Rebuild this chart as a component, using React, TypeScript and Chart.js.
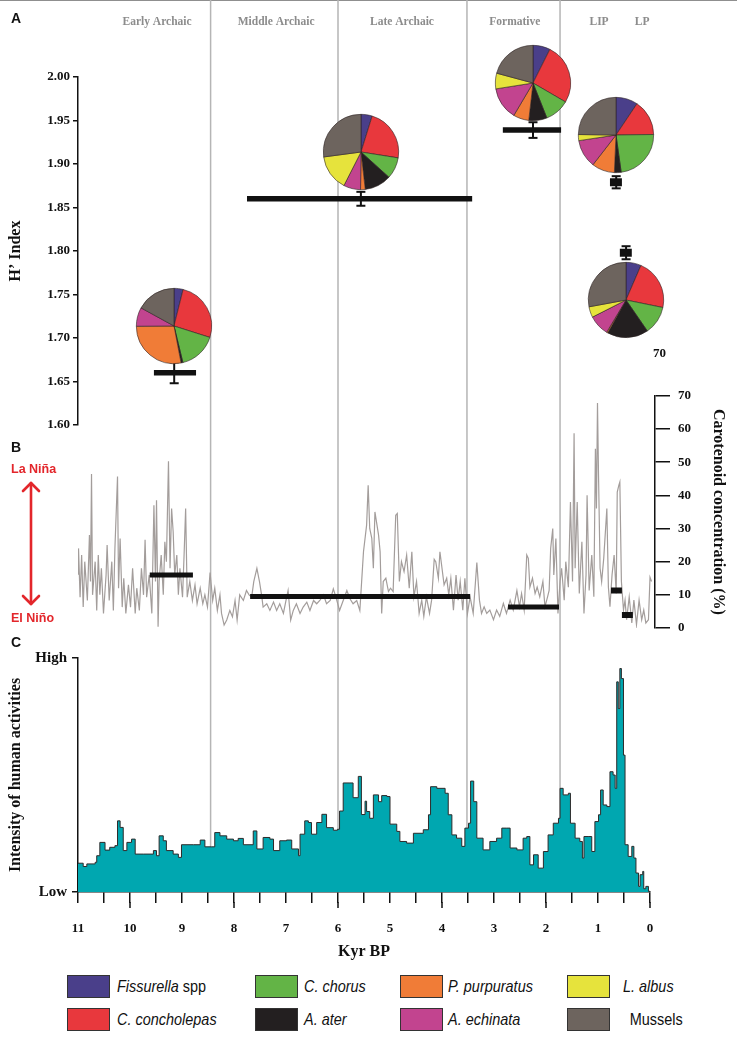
import React, { useEffect, useRef } from 'react';
import { Chart, registerables, Plugin } from 'chart.js';

Chart.register(...registerables);

// ---------------- data ----------------
const species = ['Fissurella spp', 'C. concholepas', 'C. chorus', 'A. ater', 'P. purpuratus', 'A. echinata', 'L. albus', 'Mussels'];
const speciesColors = ['#4a3f8a', '#e8383d', '#63b446', '#231f20', '#f07c37', '#c2448f', '#e6e33c', '#6d645e'];

const periodNames = ['Early Archaic', 'Middle Archaic', 'Late Archaic', 'Formative', 'LIP', 'LP'];
const periodLabelKyr = [9.48, 7.19, 4.77, 2.6, 0.98, 0.15];
const periodBounds = [8.45, 6.0, 3.52, 1.73];

// panel A: H' index per occupation phase
const hStart = [9.54, 7.75, 2.83, 0.77, 0.58];
const hEnd = [8.73, 3.42, 1.71, 0.54, 0.35];
const hMean = [1.66, 1.86, 1.939, 1.879, 1.798];
const hErr = [0.012, 0.008, 0.009, 0.007, 0.0075];
const hErrKyr = [9.15, 5.56, 2.25, 0.65, 0.46];
// shares (%) in species order
const pieShares = [
  [3.9, 26.0, 16.3, 0.8, 27.9, 8.1, 0, 17.0],
  [4.8, 22.7, 9.2, 11.5, 2.0, 7.3, 15.4, 27.1],
  [7.4, 26.0, 10.6, 7.8, 6.7, 14.0, 6.7, 20.8],
  [9.4, 15.4, 23.0, 2.9, 9.8, 12.1, 2.6, 24.8],
  [6.5, 21.7, 12.2, 17.7, 0.5, 8.9, 4.6, 27.9],
];

// panel B: carotenoid concentration (%) [kyr BP, value]
const carotenoidSeries: [number, number][] = [
  [11.0, 16.2], [10.99, 24], [10.96, 9.3], [10.93, 22], [10.9, 6.3], [10.87, 20], [10.82, 8.3], [10.78, 28],
  [10.76, 14], [10.74, 46.4], [10.72, 10], [10.67, 20], [10.64, 5.3], [10.61, 22], [10.58, 10], [10.55, 18],
  [10.51, 4.4], [10.46, 16], [10.44, 25], [10.4, 8.3], [10.35, 20], [10.32, 5.3], [10.29, 24], [10.24, 45.7],
  [10.22, 12], [10.19, 27], [10.15, 6.3], [10.12, 15], [10.08, 4.4], [10.03, 13], [9.99, 6.3], [9.95, 18],
  [9.9, 4.4], [9.87, 12], [9.82, 5.3], [9.78, 18], [9.74, 10], [9.71, 26.6], [9.68, 9.3], [9.63, 16],
  [9.58, 4.4], [9.54, 37], [9.51, 14], [9.49, 38.5], [9.46, 0.4], [9.44, 14], [9.4, 22], [9.36, 10],
  [9.33, 26], [9.3, 20], [9.26, 50.3], [9.23, 18], [9.2, 36], [9.17, 29], [9.14, 16], [9.1, 22],
  [9.07, 10], [9.04, 18], [8.99, 9.3], [8.96, 22], [8.93, 36], [8.9, 9.3], [8.85, 14], [8.8, 8.3],
  [8.75, 13], [8.71, 7.3], [8.65, 12], [8.6, 7.3], [8.56, 10], [8.51, 6.3], [8.46, 16.7], [8.41, 8.3],
  [8.37, 12], [8.32, 5.3], [8.27, 10], [8.24, 4.4], [8.19, 0.9], [8.14, 2.4], [8.08, 5.3], [8.03, 3.4],
  [7.98, 8.3], [7.94, 2.4], [7.89, 10], [7.82, 8.3], [7.76, 11.3], [7.71, 10], [7.66, 9.3], [7.62, 14],
  [7.56, 18], [7.51, 14], [7.47, 10], [7.44, 6.3], [7.37, 7.3], [7.31, 5.3], [7.24, 7.8], [7.18, 5.3],
  [7.12, 7.3], [7.05, 4.4], [7.0, 8.3], [6.96, 11.3], [6.91, 2.4], [6.86, 5.3], [6.8, 7.3], [6.73, 4.4],
  [6.67, 6.3], [6.6, 7.8], [6.54, 5.3], [6.47, 8.3], [6.41, 7.3], [6.35, 8.3], [6.28, 10], [6.22, 7.3],
  [6.15, 8.3], [6.09, 11.8], [6.04, 9.3], [5.97, 5.3], [5.9, 8.3], [5.83, 11.3], [5.77, 8.8], [5.71, 7.3],
  [5.64, 8.3], [5.58, 5.3], [5.51, 23], [5.45, 31], [5.42, 43], [5.39, 30], [5.35, 27], [5.32, 18],
  [5.29, 35], [5.26, 32], [5.22, 28], [5.19, 23], [5.16, 4.4], [5.13, 14], [5.08, 15], [5.03, 11],
  [4.99, 12], [4.94, 11], [4.89, 34], [4.86, 34.5], [4.82, 14], [4.78, 20], [4.73, 17], [4.68, 22],
  [4.63, 12], [4.58, 23], [4.54, 9.4], [4.49, 14], [4.44, 4.4], [4.39, 8.4], [4.35, 3.5], [4.3, 9.4],
  [4.24, 4.4], [4.2, 8.4], [4.15, 20.7], [4.12, 20], [4.07, 15], [4.04, 23], [4.0, 18], [3.96, 13],
  [3.91, 15], [3.87, 10], [3.83, 15], [3.78, 5.4], [3.73, 16], [3.69, 8.4], [3.65, 14], [3.6, 5.4],
  [3.56, 15], [3.51, 4.4], [3.46, 9.4], [3.4, 4.4], [3.33, 19.7], [3.28, 8.4], [3.24, 4.4], [3.19, 6.4],
  [3.14, 4.4], [3.08, 5.4], [3.01, 2.5], [2.95, 5.4], [2.89, 3.5], [2.82, 7.4], [2.76, 4.4], [2.69, 8.4],
  [2.63, 5.4], [2.56, 11.3], [2.51, 6.4], [2.47, 10.4], [2.42, 5.4], [2.37, 22], [2.34, 21], [2.31, 12.3],
  [2.26, 15], [2.21, 10.4], [2.17, 12.3], [2.12, 9.4], [2.06, 14], [2.02, 6.4], [1.97, 9.4], [1.94, 11.3],
  [1.91, 24], [1.87, 30], [1.85, 16], [1.81, 27], [1.77, 4.4], [1.73, 14], [1.7, 18], [1.65, 8.4],
  [1.62, 20], [1.57, 12.3], [1.53, 38], [1.49, 14], [1.46, 58.7], [1.44, 18], [1.4, 38], [1.36, 10.4],
  [1.31, 26], [1.27, 4.4], [1.23, 16], [1.21, 40], [1.17, 11.3], [1.12, 22], [1.08, 9.4], [1.05, 54],
  [1.03, 36], [1.01, 67.8], [0.99, 46], [0.96, 18], [0.93, 14], [0.89, 21], [0.83, 36], [0.8, 12.3],
  [0.77, 6.4], [0.73, 16], [0.69, 22], [0.65, 10.4], [0.63, 41], [0.6, 43], [0.58, 44], [0.55, 14],
  [0.51, 5.4], [0.48, 8.4], [0.45, 2.5], [0.4, 9.4], [0.35, 1.5], [0.31, 8.4], [0.26, 1.0], [0.21, 8.4],
  [0.16, 2.5], [0.12, 5.4], [0.08, 1.5], [0.03, 2.5], [0.0, 15.3], [-0.03, 14],
];
const bStart = [9.62, 7.69, 2.73, 0.75, 0.54];
const bEnd = [8.79, 3.46, 1.75, 0.54, 0.33];
const bValue = [16, 9.5, 6.3, 11.3, 3.9];
const carotenoidTicks = [0, 10, 20, 30, 40, 50, 60, 70];

// panel C: intensity of human activities (0 = Low, 1 = High)
const activitySeries: [number, number][] = [
  [11.0, 0.123], [10.9, 0.109], [10.83, 0.12], [10.67, 0.127], [10.64, 0.155], [10.58, 0.212], [10.48, 0.179],
  [10.39, 0.191], [10.29, 0.198], [10.24, 0.304], [10.19, 0.276], [10.13, 0.177], [10.06, 0.212], [9.97, 0.226],
  [9.9, 0.162], [9.74, 0.162], [9.55, 0.177], [9.49, 0.155], [9.44, 0.24], [9.36, 0.219], [9.3, 0.177],
  [9.17, 0.162], [9.07, 0.148], [9.01, 0.202], [8.78, 0.202], [8.65, 0.222], [8.56, 0.193], [8.43, 0.193],
  [8.37, 0.254], [8.27, 0.24], [8.14, 0.226], [8.01, 0.219], [7.92, 0.229], [7.82, 0.202], [7.63, 0.261],
  [7.56, 0.184], [7.44, 0.233], [7.31, 0.226], [7.24, 0.177], [7.12, 0.219], [6.99, 0.222], [6.89, 0.184],
  [6.76, 0.155], [6.73, 0.247], [6.64, 0.304], [6.57, 0.297], [6.51, 0.247], [6.41, 0.297], [6.31, 0.332],
  [6.22, 0.275], [6.09, 0.264], [6.01, 0.268], [5.97, 0.346], [5.9, 0.466], [5.77, 0.466], [5.71, 0.403],
  [5.61, 0.494], [5.55, 0.331], [5.48, 0.388], [5.45, 0.344], [5.39, 0.315], [5.32, 0.415], [5.22, 0.386],
  [5.16, 0.412], [5.06, 0.408], [5.0, 0.29], [4.87, 0.259], [4.81, 0.216], [4.68, 0.209], [4.55, 0.251],
  [4.36, 0.266], [4.26, 0.33], [4.22, 0.45], [4.1, 0.443], [3.94, 0.422], [3.88, 0.33], [3.81, 0.244],
  [3.72, 0.23], [3.62, 0.195], [3.56, 0.273], [3.49, 0.294], [3.45, 0.474], [3.39, 0.386], [3.33, 0.23],
  [3.21, 0.18], [3.08, 0.216], [2.95, 0.23], [2.85, 0.273], [2.76, 0.273], [2.69, 0.188], [2.56, 0.18],
  [2.44, 0.23], [2.37, 0.237], [2.31, 0.116], [2.24, 0.159], [2.15, 0.102], [2.05, 0.173], [1.96, 0.244],
  [1.86, 0.294], [1.76, 0.315], [1.73, 0.443], [1.67, 0.415], [1.57, 0.422], [1.53, 0.294], [1.44, 0.23],
  [1.35, 0.216], [1.3, 0.145], [1.27, 0.237], [1.19, 0.237], [1.12, 0.173], [1.06, 0.301], [0.99, 0.33],
  [0.95, 0.436], [0.9, 0.372], [0.83, 0.365], [0.77, 0.514], [0.71, 0.5], [0.67, 0.443], [0.64, 0.898],
  [0.61, 0.784], [0.58, 0.955], [0.55, 0.912], [0.51, 0.585], [0.48, 0.202], [0.42, 0.152], [0.35, 0.195],
  [0.31, 0.145], [0.27, 0.081], [0.22, 0.024], [0.19, 0.074], [0.14, 0.088], [0.12, 0.014], [0.08, 0.024],
  [0.03, 0.003], [0.0, 0.0],
];
const activityTicks = ['Low', 'High'];
const kyrMajorTicks = [0, 2, 4, 6, 8, 10];

// ---------------- layout ----------------
const W = 737;
const AXIS_LEFT = 78;
const CHART_RIGHT = 650;
const A_TOP = 0, A_H = 440;
const B_TOP = 380, B_H = 264;
const C_TOP = 644, C_H = 330;
const PIE_D = 78;
const PIE_GAP = 47;
const PIE_BELOW = [false, false, false, false, true];

const INK = '#111';
const serif = '"Liberation Serif", "Times New Roman", serif';
const sans = '"Liberation Sans", Arial, sans-serif';

Chart.defaults.font.family = serif;
Chart.defaults.color = INK;

const periodLines = (fromY: number, toY?: number): Plugin => ({
  id: 'periodLines',
  beforeDatasetsDraw(chart) {
    const { ctx } = chart;
    const x = chart.scales.x;
    const bottom = toY ?? chart.chartArea.bottom;
    ctx.save();
    ctx.strokeStyle = '#b5b5b5';
    ctx.lineWidth = 1.5;
    periodBounds.forEach((k) => {
      const px = x.getPixelForValue(k);
      ctx.beginPath();
      ctx.moveTo(px, fromY);
      ctx.lineTo(px, bottom);
      ctx.stroke();
    });
    ctx.restore();
  },
});

const periodHeaders: Plugin = {
  id: 'periodHeaders',
  afterDraw(chart) {
    const { ctx } = chart;
    const x = chart.scales.x;
    ctx.save();
    ctx.font = `bold 11.5px ${serif}`;
    ctx.fillStyle = '#8c8c8c';
    ctx.textAlign = 'center';
    ctx.textBaseline = 'middle';
    periodNames.forEach((name, i) => ctx.fillText(name, x.getPixelForValue(periodLabelKyr[i]), 22));
    ctx.restore();
  },
};

const majorTickMarks: Plugin = {
  id: 'majorTickMarks',
  afterDraw(chart) {
    const { ctx, chartArea } = chart;
    const x = chart.scales.x;
    ctx.save();
    ctx.strokeStyle = INK;
    ctx.lineWidth = 1.5;
    kyrMajorTicks.forEach((k) => {
      const px = x.getPixelForValue(k);
      ctx.beginPath();
      ctx.moveTo(px, chartArea.bottom + 10);
      ctx.lineTo(px, chartArea.bottom + 16);
      ctx.stroke();
    });
    ctx.restore();
  },
};

const boldTicks = (size: number) => ({ weight: 'bold' as const, size });

const App: React.FC = () => {
  const aRef = useRef<HTMLCanvasElement>(null);
  const bRef = useRef<HTMLCanvasElement>(null);
  const cRef = useRef<HTMLCanvasElement>(null);
  const pieRefs = useRef<(HTMLCanvasElement | null)[]>([]);

  useEffect(() => {
    if (!aRef.current || !bRef.current || !cRef.current) return;
    const charts: Chart[] = [];

    // ---- panel A ----
    const aSets: any[] = [];
    hStart.forEach((s, i) => {
      const short = Math.abs(s - hEnd[i]) < 0.3;
      aSets.push({
        data: [{ x: s, y: hMean[i] }, { x: hEnd[i], y: hMean[i] }],
        borderColor: INK,
        borderWidth: short ? 8 : 5.5,
        borderCapStyle: 'butt',
        pointRadius: 0,
      });
      aSets.push({
        data: [{ x: hErrKyr[i], y: hMean[i] - hErr[i] }, { x: hErrKyr[i], y: hMean[i] + hErr[i] }],
        borderColor: INK,
        borderWidth: 2,
        pointStyle: 'line',
        pointRadius: 4.5,
        pointBorderWidth: 2,
        pointBorderColor: INK,
      });
    });

    const chartA = new Chart(aRef.current, {
      type: 'line',
      data: { datasets: aSets },
      options: {
        animation: false,
        responsive: false,
        events: [],
        layout: { padding: { top: 77, right: W - CHART_RIGHT, bottom: 15, left: 0 } },
        plugins: { legend: { display: false }, tooltip: { enabled: false } },
        scales: {
          x: { type: 'linear', min: 0, max: 11, reverse: true, display: false },
          y: {
            min: 1.6,
            max: 2.0,
            ticks: { stepSize: 0.05, font: boldTicks(13), padding: 3, callback: (v) => Number(v).toFixed(2) },
            grid: { drawOnChartArea: false, tickLength: 5, color: INK, lineWidth: 1.5 },
            border: { display: true, color: INK, width: 1.5 },
            title: { display: true, text: 'H’ Index', font: { weight: 'bold', size: 16 }, padding: { top: 6, bottom: 0 } },
            afterFit: (scale) => { scale.width = AXIS_LEFT; },
          },
        },
      },
      plugins: [periodLines(0, 432 - A_TOP), periodHeaders],
    });
    charts.push(chartA);

    // pies placed through panel A's scales
    pieShares.forEach((shares, i) => {
      const cv = pieRefs.current[i];
      if (!cv) return;
      const cx = chartA.scales.x.getPixelForValue(hErrKyr[i]);
      const cy = chartA.scales.y.getPixelForValue(hMean[i]) + (PIE_BELOW[i] ? PIE_GAP : -PIE_GAP);
      cv.style.left = `${cx - PIE_D / 2}px`;
      cv.style.top = `${A_TOP + cy - PIE_D / 2}px`;
      charts.push(new Chart(cv, {
        type: 'pie',
        data: {
          labels: species,
          datasets: [{ data: shares, backgroundColor: speciesColors, borderColor: 'rgba(45,35,35,0.85)', borderWidth: 0.7 }],
        },
        options: {
          animation: false,
          responsive: false,
          events: [],
          layout: { padding: 1 },
          plugins: { legend: { display: false }, tooltip: { enabled: false } },
        },
      }));
    });

    // ---- panel B ----
    const bSets: any[] = bStart.map((s, i) => ({
      data: [{ x: s, y: bValue[i] }, { x: bEnd[i], y: bValue[i] }],
      borderColor: INK,
      borderWidth: Math.abs(s - bEnd[i]) < 0.3 ? 6 : 5,
      borderCapStyle: 'butt',
      pointRadius: 0,
      order: 0,
    }));
    bSets.push({
      data: carotenoidSeries.map(([x, y]) => ({ x, y })),
      borderColor: '#a39d9b',
      borderWidth: 1.2,
      pointRadius: 0,
      tension: 0,
      order: 1,
    });

    charts.push(new Chart(bRef.current, {
      type: 'line',
      data: { datasets: bSets },
      options: {
        animation: false,
        responsive: false,
        events: [],
        layout: { padding: { top: 12, right: 0, bottom: 16, left: AXIS_LEFT } },
        plugins: { legend: { display: false }, tooltip: { enabled: false } },
        scales: {
          x: { type: 'linear', min: -0.096, max: 11, reverse: true, display: false },
          y: {
            position: 'right',
            min: 0,
            max: 70,
            afterBuildTicks: (scale) => { scale.ticks = carotenoidTicks.map((value) => ({ value })); },
            ticks: { font: boldTicks(13), padding: 8 },
            grid: { drawOnChartArea: false, tickLength: 15, color: INK, lineWidth: 1.5 },
            border: { display: true, color: INK, width: 1.5 },
            title: { display: true, text: 'Carotenoid concentration (%)', font: { weight: 'bold', size: 16 }, padding: { top: 9, bottom: 0 } },
            afterFit: (scale) => { scale.width = W - 655; },
          },
        },
      },
      plugins: [periodLines(432 - B_TOP, B_H)],
    }));

    // ---- panel C ----
    charts.push(new Chart(cRef.current, {
      type: 'line',
      data: {
        datasets: [{
          data: activitySeries.map(([x, y]) => ({ x, y })),
          stepped: true,
          fill: 'origin',
          backgroundColor: '#00a7b0',
          borderColor: '#2d2b2b',
          borderWidth: 1,
          pointRadius: 0,
        }],
      },
      options: {
        animation: false,
        responsive: false,
        events: [],
        layout: { padding: { top: 12, right: W - CHART_RIGHT, bottom: 0, left: 0 } },
        plugins: { legend: { display: false }, tooltip: { enabled: false } },
        scales: {
          x: {
            type: 'linear',
            min: 0,
            max: 11,
            reverse: true,
            ticks: {
              stepSize: 0.5,
              autoSkip: false,
              maxRotation: 0,
              font: boldTicks(13),
              padding: 18,
              callback: (v) => (Number.isInteger(Number(v)) ? String(v) : ''),
            },
            grid: { drawOnChartArea: false, tickLength: 11, color: INK, lineWidth: 1.5 },
            border: { display: true, color: INK, width: 1.5 },
            title: { display: true, text: 'Kyr BP', font: { weight: 'bold', size: 16 }, padding: { top: 0, bottom: 13 } },
            afterFit: (scale) => { scale.height = 82; },
          },
          y: {
            min: 0,
            max: 1,
            afterBuildTicks: (scale) => { scale.ticks = [{ value: 0 }, { value: 1 }]; },
            ticks: { font: boldTicks(15), padding: 5, callback: (v) => activityTicks[Number(v)] },
            grid: { drawOnChartArea: false, tickLength: 6, color: INK, lineWidth: 1.5 },
            border: { display: true, color: INK, width: 1.5 },
            title: { display: true, text: 'Intensity of human activities', font: { weight: 'bold', size: 16 }, padding: { top: 6, bottom: 0 } },
            afterFit: (scale) => { scale.width = AXIS_LEFT; },
          },
        },
      },
      plugins: [periodLines(0), majorTickMarks],
    }));

    return () => charts.forEach((c) => c.destroy());
  }, []);

  const abs = (left: number, top: number, extra: React.CSSProperties = {}): React.CSSProperties => ({
    position: 'absolute', left, top, margin: 0, whiteSpace: 'nowrap', ...extra,
  });

  const legendCols = [67, 255, 400, 567];
  const legendLabelGap = [50, 49, 48, 56];
  const legendRows = [975, 1008];

  const speciesLabel = (name: string) => {
    if (name === 'Mussels') return <span style={{ paddingLeft: 8 }}>Mussels</span>;
    if (name.endsWith(' spp')) return <><i>{name.replace(' spp', '')}</i> spp</>;
    return <i>{name}</i>;
  };

  return (
    <div style={{ position: 'absolute', left: 0, top: 0, width: W, height: 1044, background: '#fff', overflow: 'hidden' }}>
      <div style={abs(0, 0, { width: W, height: 1, background: '#8f8f8f' })} />
      <canvas ref={aRef} width={W} height={A_H} style={abs(0, A_TOP, { width: W, height: A_H })} />
      <canvas ref={bRef} width={W} height={B_H} style={abs(0, B_TOP, { width: W, height: B_H })} />
      <canvas ref={cRef} width={W} height={C_H} style={abs(0, C_TOP, { width: W, height: C_H })} />
      {pieShares.map((_, i) => (
        <canvas
          key={i}
          ref={(el) => { pieRefs.current[i] = el; }}
          width={PIE_D}
          height={PIE_D}
          style={abs(-200, 0, { width: PIE_D, height: PIE_D })}
        />
      ))}

      <div style={abs(11, 10, { font: `bold 14px ${sans}`, color: INK })}>A</div>
      <div style={abs(11, 439, { font: `bold 14px ${sans}`, color: INK })}>B</div>
      <div style={abs(11, 634, { font: `bold 14px ${sans}`, color: INK })}>C</div>

      <div style={abs(11, 462, { font: `bold 12.5px ${sans}`, color: '#e3262b', lineHeight: '14px' })}>La Niña</div>
      <div style={abs(11, 611, { font: `bold 12.5px ${sans}`, color: '#e3262b', lineHeight: '14px' })}>El Niño</div>
      <svg style={abs(18, 478)} width={26} height={132}>
        <g stroke="#e3262b" strokeWidth={2.6} fill="none" strokeLinecap="round" strokeLinejoin="round">
          <line x1={13} y1={5} x2={13} y2={126} />
          <polyline points="5,13 13,5 21,13" />
          <polyline points="5,118 13,126 21,118" />
        </g>
      </svg>

      <div style={abs(653, 345, { font: `bold 13px ${serif}`, color: INK, lineHeight: '16px' })}>70</div>

      {species.map((name, i) => {
        const col = Math.floor(i / 2);
        const row = i % 2;
        return (
          <React.Fragment key={name}>
            <div
              style={abs(legendCols[col], legendRows[row], {
                width: 41, height: 21, background: speciesColors[i], border: '1.5px solid #333',
              })}
            />
            <div
              style={abs(legendCols[col] + legendLabelGap[col], legendRows[row], {
                font: `17px ${sans}`, color: INK, lineHeight: '23px',
                transform: 'scaleX(0.85)', transformOrigin: 'left center',
              })}
            >
              {speciesLabel(name)}
            </div>
          </React.Fragment>
        );
      })}
    </div>
  );
};

export default App;
